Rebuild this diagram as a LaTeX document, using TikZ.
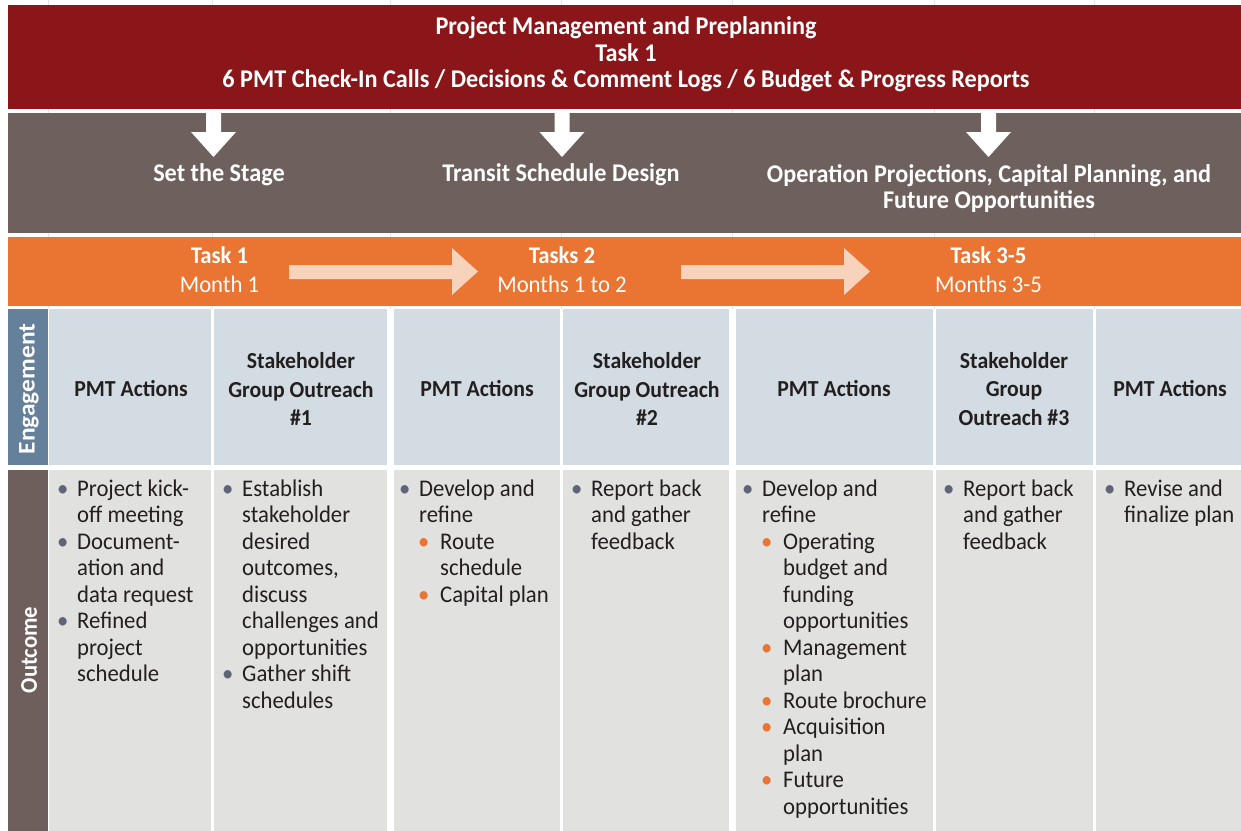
\documentclass[tikz,border=0pt]{standalone}
\usepackage{fontspec}
\setmainfont{Carlito}[FakeStretch=0.95]
\definecolor{pmred}{HTML}{8A1619}
\definecolor{stagegray}{HTML}{6E605C}
\definecolor{orng}{HTML}{EA7431}
\definecolor{lightarrow}{HTML}{F8D3BC}
\definecolor{headcell}{HTML}{D3DCE3}
\definecolor{outcell}{HTML}{E1E1E0}
\definecolor{englabel}{HTML}{64809B}
\definecolor{outlabel}{HTML}{6E5F5C}
\definecolor{txt}{HTML}{231F20}
\definecolor{bulgray}{HTML}{5E6579}
\definecolor{faint}{HTML}{E4E4E4}
\newcommand\bitem[1]{\par\noindent\hangindent=17bp\hangafter=1\makebox[17bp][l]{\hspace*{-3bp}\textcolor{bulgray}{•}}#1}
\newcommand\sitem[1]{\par\noindent\hangindent=38bp\hangafter=1\hspace*{18bp}\makebox[20bp][l]{\hspace*{-2bp}\textcolor{orng}{•}}#1}
\newcommand\celltext[1]{\parbox[t]{200bp}{\raggedright\fontsize{24}{26.6}\selectfont #1}}
\tikzset{
  band/.style={inner sep=0pt, outer sep=0pt, draw=none},
  whitetxt/.style={text=white, font=\bfseries\fontsize{25.6}{26.6}\selectfont, align=center, inner sep=0pt},
  orangetxt/.style={text=white, font=\fontsize{24}{29}\selectfont, align=center, inner sep=0pt},
  headtxt/.style={text=txt, font=\bfseries\fontsize{23}{28.7}\selectfont, align=center, inner sep=0pt},
  bodytxt/.style={text=txt, anchor=base west, inner sep=0pt},
  sidelabel/.style={text=white, font=\bfseries\fontsize{24}{26}\selectfont, rotate=90, inner sep=0pt},
  downarrow/.style={fill=white, draw=none},
  rightarrow/.style={fill=lightarrow, draw=none}
}
\begin{document}
\begin{tikzpicture}[x=1bp, y=-1bp]
\useasboundingbox (0,0) rectangle (1241,831);
\fill[white] (0,0) rectangle (1241,831);
% faint column guide lines
\foreach \gx in {48,212.5,390.5,561.5,732.5,934.5,1094.5}
  \draw[faint, line width=0.8bp] (\gx,0) -- (\gx,309);
% bands
\node[band, fill=pmred, minimum width=1233bp, minimum height=104bp] (pm) at (624.5,57) {};
\node[band, fill=stagegray, minimum width=1233bp, minimum height=120bp] (stage) at (624.5,172.5) {};
\node[band, fill=orng, minimum width=1233bp, minimum height=69bp] (tasks) at (624.5,271.5) {};
% title
\node[whitetxt] (pmtext) at (626,54.5) {Project Management and Preplanning\\Task 1\\6 PMT Check-In Calls / Decisions \& Comment Logs / 6 Budget \& Progress Reports};
% down arrows
\foreach \cx in {213.5,562,988.5}
  \fill[downarrow] ({\cx-7.5},110) -- ({\cx+7.5},110) -- ({\cx+7.5},132) -- ({\cx+22.5},132) -- (\cx,157) -- ({\cx-22.5},132) -- ({\cx-7.5},132) -- cycle;
% stage labels
\node[whitetxt] (s1) at (219,175) {Set the Stage};
\node[whitetxt] (s2) at (561,175) {Transit Schedule Design};
\node[whitetxt, font=\bfseries\fontsize{25.6}{27}\selectfont] (s3) at (989,188.5) {Operation Projections, Capital Planning, and\\Future Opportunities};
% orange band
\node[orangetxt] (t1) at (219.5,269.5) {\textbf{Task 1}\\Month 1};
\node[orangetxt] (t2) at (562,269.5) {\textbf{Tasks 2}\\Months 1 to 2};
\node[orangetxt] (t3) at (988.5,269.5) {\textbf{Task 3-5}\\Months 3-5};
\foreach \ax in {289,681}
  \fill[rightarrow] (\ax,265) -- ({\ax+163},265) -- ({\ax+163},248) -- ({\ax+189},271.5) -- ({\ax+163},295) -- ({\ax+163},279) -- (\ax,279) -- cycle;
% side labels
\node[band, fill=englabel, minimum width=40bp, minimum height=156bp] (englab) at (28,387) {};
\node[sidelabel] at (29,389) {\scalebox{1.12}[1]{Engagement}};
\node[band, fill=outlabel, minimum width=40bp, minimum height=361bp] (outlab) at (28,650.5) {};
\node[sidelabel] at (29,650) {Outcome};
% header cells
\node[band, fill=headcell, minimum width=162bp, minimum height=156bp] (h1) at (130,387) {};
\node[band, fill=headcell, minimum width=173bp, minimum height=156bp] (h2) at (300.5,387) {};
\node[band, fill=headcell, minimum width=166bp, minimum height=156bp] (h3) at (477,387) {};
\node[band, fill=headcell, minimum width=166bp, minimum height=156bp] (h4) at (646,387) {};
\node[band, fill=headcell, minimum width=197bp, minimum height=156bp] (h5) at (834.5,387) {};
\node[band, fill=headcell, minimum width=157bp, minimum height=156bp] (h6) at (1014.5,387) {};
\node[band, fill=headcell, minimum width=145bp, minimum height=156bp] (h7) at (1168.5,387) {};
\node[headtxt] at (131,389) {PMT Actions};
\node[headtxt] at (301,389) {Stakeholder\\Group Outreach\\\#1};
\node[headtxt] at (477,389) {PMT Actions};
\node[headtxt] at (647,389) {Stakeholder\\Group Outreach\\\#2};
\node[headtxt] at (834,389) {PMT Actions};
\node[headtxt] at (1014,389) {Stakeholder\\Group\\Outreach \#3};
\node[headtxt] at (1170,389) {PMT Actions};
% outcome cells
\node[band, fill=outcell, minimum width=162bp, minimum height=361bp] (o1) at (130,650.5) {};
\node[band, fill=outcell, minimum width=173bp, minimum height=361bp] (o2) at (300.5,650.5) {};
\node[band, fill=outcell, minimum width=166bp, minimum height=361bp] (o3) at (477,650.5) {};
\node[band, fill=outcell, minimum width=166bp, minimum height=361bp] (o4) at (646,650.5) {};
\node[band, fill=outcell, minimum width=197bp, minimum height=361bp] (o5) at (834.5,650.5) {};
\node[band, fill=outcell, minimum width=157bp, minimum height=361bp] (o6) at (1014.5,650.5) {};
\node[band, fill=outcell, minimum width=145bp, minimum height=361bp] (o7) at (1168.5,650.5) {};
% outcome texts
\node[bodytxt] (b1) at (60,496) {\celltext{%
\bitem{Project kick-\newline off meeting}
\bitem{Document-\newline ation and\newline data request}
\bitem{Refined\newline project\newline schedule}}};
\node[bodytxt] (b2) at (225,496) {\celltext{%
\bitem{Establish\newline stakeholder\newline desired\newline outcomes,\newline discuss\newline challenges and\newline opportunities}
\bitem{Gather shift\newline schedules}}};
\node[bodytxt] (b3) at (402,496) {\celltext{%
\bitem{Develop and\newline refine}
\sitem{Route\newline schedule}
\sitem{Capital plan}}};
\node[bodytxt] (b4) at (574,496) {\celltext{%
\bitem{Report back\newline and gather\newline feedback}}};
\node[bodytxt] (b5) at (745,496) {\celltext{%
\bitem{Develop and\newline refine}
\sitem{Operating\newline budget and\newline funding\newline opportunities}
\sitem{Management\newline plan}
\sitem{Route brochure}
\sitem{Acquisition\newline plan}
\sitem{Future\newline opportunities}}};
\node[bodytxt] (b6) at (946,496) {\celltext{%
\bitem{Report back\newline and gather\newline feedback}}};
\node[bodytxt] (b7) at (1107,496) {\celltext{%
\bitem{Revise and\newline finalize plan}}};
\end{tikzpicture}
\end{document}
